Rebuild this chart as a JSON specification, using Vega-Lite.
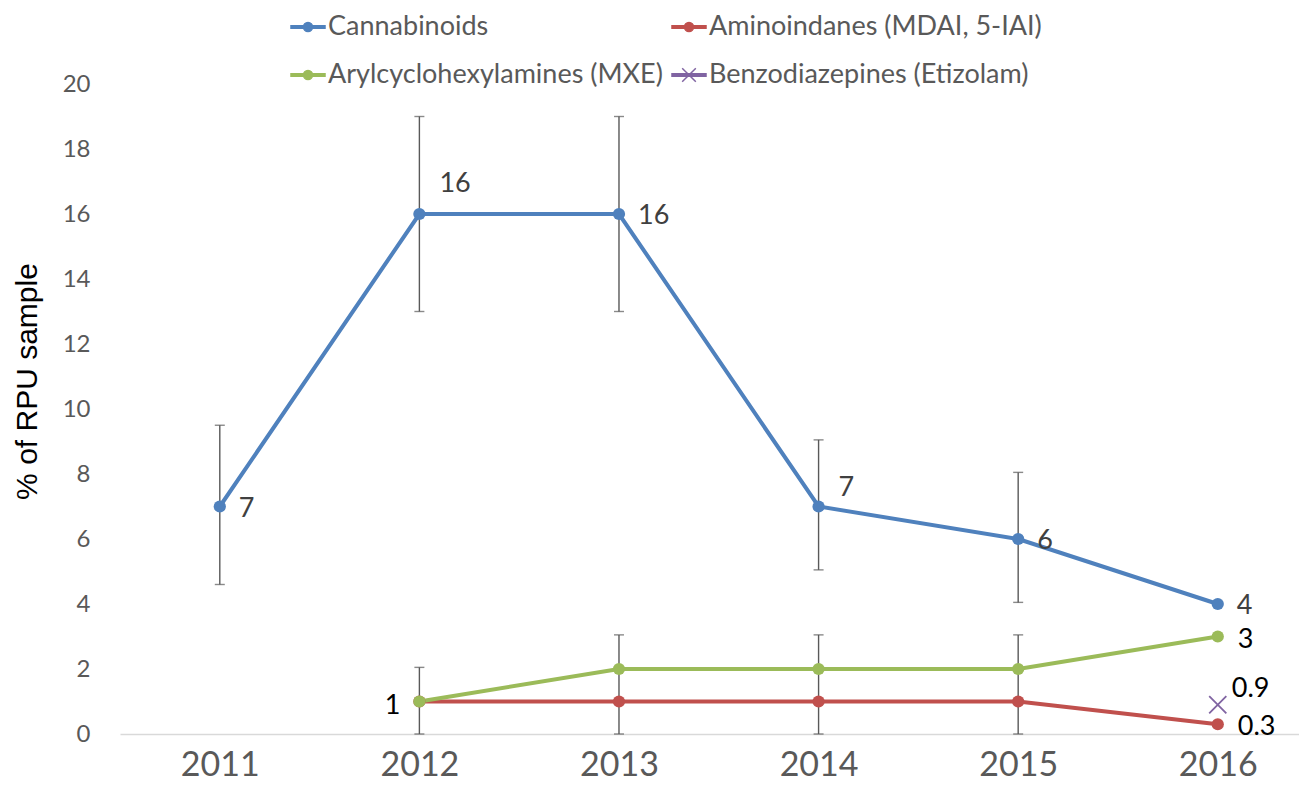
{
  "$schema": "https://vega.github.io/schema/vega-lite/v6.json",
  "autosize": {"type": "none"},
  "width": 1179,
  "height": 650,
  "padding": {"left": 120, "top": 84, "right": 0, "bottom": 68},
  "background": "white",
  "config": {
    "view": {"stroke": null},
    "font": "Lato",
    "legend": {
      "orient": "none",
      "legendX": 170,
      "legendY": -75,
      "direction": "horizontal",
      "columns": 2,
      "columnPadding": 6,
      "rowPadding": 17,
      "symbolSize": 1156,
      "labelFontSize": 27,
      "labelFont": "Lato",
      "labelColor": "#595959",
      "labelOffset": 2,
      "labelLimit": 500,
      "title": null
    }
  },
  "data": {
    "values": [
      {"series": "Cannabinoids", "year": 2011, "value": 7, "lo": 4.6, "hi": 9.5},
      {"series": "Cannabinoids", "year": 2012, "value": 16, "lo": 13, "hi": 19},
      {"series": "Cannabinoids", "year": 2013, "value": 16, "lo": 13, "hi": 19},
      {"series": "Cannabinoids", "year": 2014, "value": 7, "lo": 5.05, "hi": 9.05},
      {"series": "Cannabinoids", "year": 2015, "value": 6, "lo": 4.05, "hi": 8.05},
      {"series": "Cannabinoids", "year": 2016, "value": 4, "lo": null, "hi": null},
      {"series": "Aminoindanes (MDAI, 5-IAI)", "year": 2012, "value": 1, "lo": null, "hi": null},
      {"series": "Aminoindanes (MDAI, 5-IAI)", "year": 2013, "value": 1, "lo": null, "hi": null},
      {"series": "Aminoindanes (MDAI, 5-IAI)", "year": 2014, "value": 1, "lo": null, "hi": null},
      {"series": "Aminoindanes (MDAI, 5-IAI)", "year": 2015, "value": 1, "lo": null, "hi": null},
      {"series": "Aminoindanes (MDAI, 5-IAI)", "year": 2016, "value": 0.3, "lo": null, "hi": null},
      {"series": "Arylcyclohexylamines (MXE)", "year": 2012, "value": 1, "lo": 0, "hi": 2.05},
      {"series": "Arylcyclohexylamines (MXE)", "year": 2013, "value": 2, "lo": 0, "hi": 3.05},
      {"series": "Arylcyclohexylamines (MXE)", "year": 2014, "value": 2, "lo": 0, "hi": 3.05},
      {"series": "Arylcyclohexylamines (MXE)", "year": 2015, "value": 2, "lo": 0, "hi": 3.05},
      {"series": "Arylcyclohexylamines (MXE)", "year": 2016, "value": 3, "lo": null, "hi": null},
      {"series": "Benzodiazepines (Etizolam)", "year": 2016, "value": 0.9, "lo": null, "hi": null}
    ]
  },
  "encoding": {
    "x": {
      "field": "year",
      "type": "quantitative",
      "scale": {"domain": [2010.5, 2016.407], "nice": false, "zero": false},
      "axis": {
        "values": [2011, 2012, 2013, 2014, 2015, 2016],
        "format": "d",
        "title": null,
        "grid": false,
        "ticks": false,
        "domainColor": "#d9d9d9",
        "domainWidth": 1.5,
        "labelFontSize": 34,
        "labelColor": "#595959",
        "labelPadding": 14,
        "labelFlush": false
      }
    }
  },
  "layer": [
    {
      "transform": [{"filter": "isValid(datum.lo)"}],
      "mark": {"type": "rule", "color": "#595959", "strokeWidth": 1.4},
      "encoding": {
        "y": {
          "field": "lo",
          "type": "quantitative",
          "title": "% of RPU sample",
          "scale": {"domain": [0, 20], "nice": false},
          "axis": {
            "values": [0, 2, 4, 6, 8, 10, 12, 14, 16, 18, 20],
            "grid": false,
            "ticks": false,
            "domain": false,
            "labelFontSize": 24,
            "labelColor": "#595959",
            "labelPadding": 30,
            "titleFont": "Liberation Sans",
            "titleFontSize": 30,
            "titleFontWeight": "normal",
            "titleColor": "#000000",
            "titlePadding": 20,
            "titleY": 297
          }
        },
        "y2": {"field": "hi"}
      }
    },
    {
      "transform": [{"filter": "isValid(datum.lo)"}],
      "mark": {"type": "tick", "orient": "horizontal", "color": "#595959", "size": 10, "thickness": 1.4},
      "encoding": {"y": {"field": "lo", "type": "quantitative", "title": "% of RPU sample"}}
    },
    {
      "transform": [{"filter": "isValid(datum.hi)"}],
      "mark": {"type": "tick", "orient": "horizontal", "color": "#595959", "size": 10, "thickness": 1.4},
      "encoding": {"y": {"field": "hi", "type": "quantitative", "title": "% of RPU sample"}}
    },
    {
      "mark": {"type": "line", "strokeWidth": 4},
      "encoding": {
        "y": {"field": "value", "type": "quantitative", "title": "% of RPU sample"},
        "color": {
          "field": "series",
          "type": "nominal",
          "scale": {
            "domain": ["Cannabinoids", "Aminoindanes (MDAI, 5-IAI)", "Arylcyclohexylamines (MXE)", "Benzodiazepines (Etizolam)"],
            "range": ["#4F81BD", "#C0504D", "#9BBB59", "#8064A2"]
          },
          "legend": {}
        }
      }
    },
    {
      "transform": [{"filter": "datum.series !== 'Benzodiazepines (Etizolam)'"}],
      "mark": {"type": "circle", "size": 150, "opacity": 1},
      "encoding": {
        "y": {"field": "value", "type": "quantitative", "title": "% of RPU sample"},
        "color": {"field": "series", "type": "nominal"}
      }
    },
    {
      "transform": [{"filter": "datum.series === 'Benzodiazepines (Etizolam)'"}],
      "mark": {"type": "point", "filled": false, "size": 150, "opacity": 1, "strokeWidth": 1.8, "shape": "M-1.4,-1.4L1.4,1.4M-1.4,1.4L1.4,-1.4"},
      "encoding": {
        "y": {"field": "value", "type": "quantitative", "title": "% of RPU sample"},
        "color": {"field": "series", "type": "nominal"}
      }
    },
    {
      "transform": [{"filter": "false"}],
      "mark": {"type": "point", "filled": true, "opacity": 1, "strokeWidth": 2},
      "encoding": {
        "color": {"field": "series", "type": "nominal"},
        "stroke": {
          "field": "series",
          "type": "nominal",
          "scale": {
            "domain": ["Cannabinoids", "Aminoindanes (MDAI, 5-IAI)", "Arylcyclohexylamines (MXE)", "Benzodiazepines (Etizolam)"],
            "range": ["#4F81BD", "#C0504D", "#9BBB59", "#8064A2"]
          },
          "legend": null
        },
        "shape": {
          "field": "series",
          "type": "nominal",
          "scale": {
            "domain": ["Cannabinoids", "Aminoindanes (MDAI, 5-IAI)", "Arylcyclohexylamines (MXE)", "Benzodiazepines (Etizolam)"],
            "range": [
              "M-1,-0.07H1V0.07H-1Z M0.27,0A0.27,0.27 0 1,1 -0.27,0A0.27,0.27 0 1,1 0.27,0Z",
              "M-1,-0.07H1V0.07H-1Z M0.27,0A0.27,0.27 0 1,1 -0.27,0A0.27,0.27 0 1,1 0.27,0Z",
              "M-1,-0.07H1V0.07H-1Z M0.27,0A0.27,0.27 0 1,1 -0.27,0A0.27,0.27 0 1,1 0.27,0Z",
              "M-1,-0.07H1V0.07H-1Z M-0.4,-0.4L0.4,0.4M-0.4,0.4L0.4,-0.4"
            ]
          },
          "legend": null
        }
      }
    },
    {
      "transform": [{"filter": "datum.series === 'Cannabinoids' && (datum.year === 2011 || datum.year === 2013 || datum.year === 2015 || datum.year === 2016)"}],
      "mark": {"type": "text", "fontSize": 27, "align": "left", "baseline": "middle", "dx": 19, "dy": 2, "color": "#404040"},
      "encoding": {"y": {"field": "value", "type": "quantitative", "title": "% of RPU sample"}, "text": {"field": "value", "type": "quantitative"}}
    },
    {
      "transform": [{"filter": "datum.series === 'Cannabinoids' && datum.year === 2012"}],
      "mark": {"type": "text", "fontSize": 27, "align": "left", "baseline": "middle", "dx": 20, "dy": -30, "color": "#404040"},
      "encoding": {"y": {"field": "value", "type": "quantitative", "title": "% of RPU sample"}, "text": {"field": "value", "type": "quantitative"}}
    },
    {
      "transform": [{"filter": "datum.series === 'Cannabinoids' && datum.year === 2014"}],
      "mark": {"type": "text", "fontSize": 27, "align": "left", "baseline": "middle", "dx": 20, "dy": -19, "color": "#404040"},
      "encoding": {"y": {"field": "value", "type": "quantitative", "title": "% of RPU sample"}, "text": {"field": "value", "type": "quantitative"}}
    },
    {
      "transform": [{"filter": "datum.series !== 'Cannabinoids' && datum.series !== 'Benzodiazepines (Etizolam)' && datum.year === 2016"}],
      "mark": {"type": "text", "fontSize": 27, "align": "left", "baseline": "middle", "dx": 20, "dy": 3, "color": "#000000"},
      "encoding": {"y": {"field": "value", "type": "quantitative", "title": "% of RPU sample"}, "text": {"field": "value", "type": "quantitative"}}
    },
    {
      "transform": [{"filter": "datum.series === 'Arylcyclohexylamines (MXE)' && datum.year === 2012"}],
      "mark": {"type": "text", "fontSize": 27, "align": "right", "baseline": "middle", "dx": -19, "dy": 4, "color": "#000000"},
      "encoding": {"y": {"field": "value", "type": "quantitative", "title": "% of RPU sample"}, "text": {"field": "value", "type": "quantitative"}}
    },
    {
      "transform": [{"filter": "datum.series === 'Benzodiazepines (Etizolam)'"}],
      "mark": {"type": "text", "fontSize": 27, "align": "left", "baseline": "middle", "dx": 14, "dy": -16, "color": "#000000"},
      "encoding": {"y": {"field": "value", "type": "quantitative", "title": "% of RPU sample"}, "text": {"field": "value", "type": "quantitative"}}
    }
  ]
}
